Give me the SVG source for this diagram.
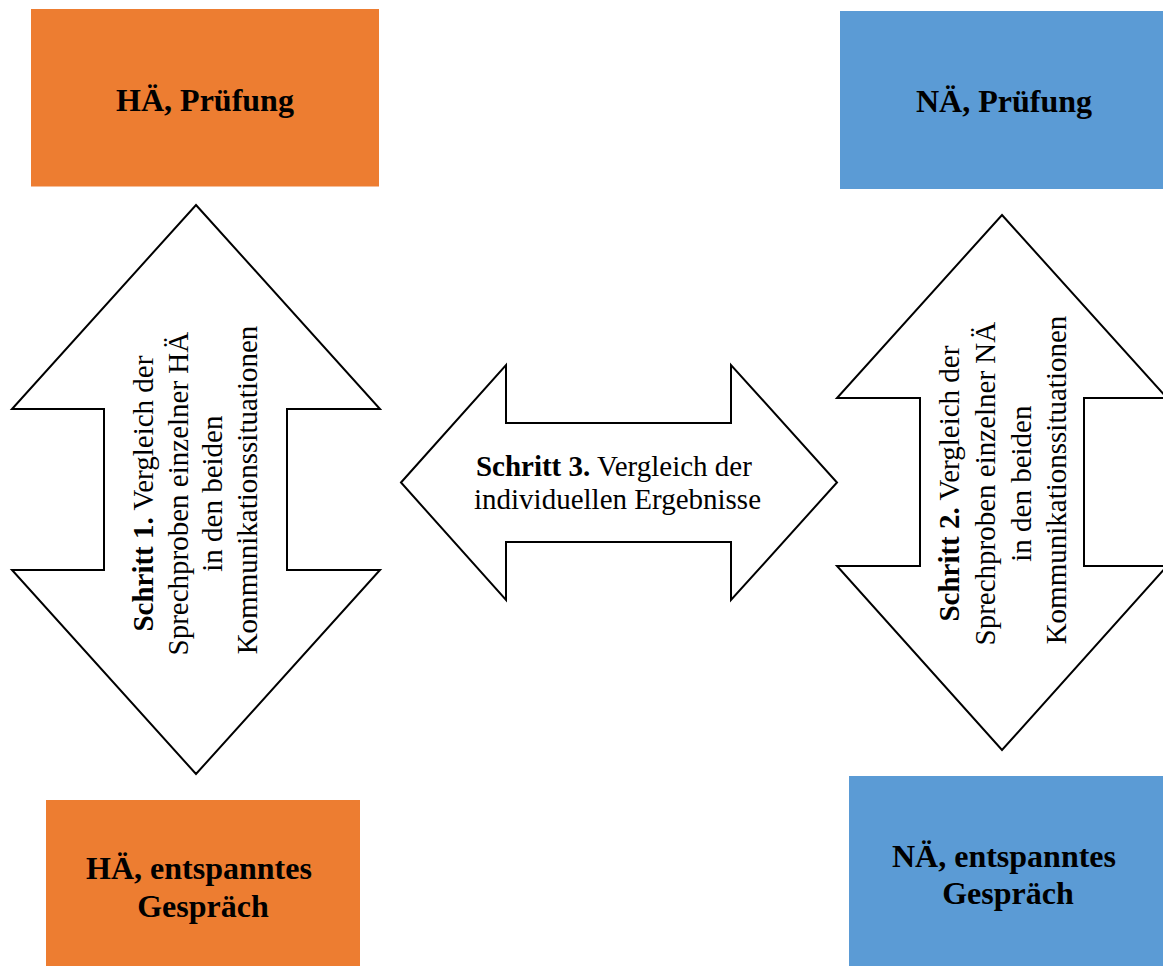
<svg xmlns="http://www.w3.org/2000/svg" width="1163" height="966" viewBox="0 0 1163 966">
  <style>
    .bg { fill: #ffffff; }
    .orange { fill: #ED7D31; }
    .blue { fill: #5B9BD5; }
    .arrow { fill: #ffffff; stroke: #000000; stroke-width: 2; stroke-linejoin: miter; }
    .label { font-family: "Liberation Serif", "Times New Roman", serif; font-weight: bold; font-size: 32px; fill: #000000; text-anchor: middle; }
    .step { font-family: "Liberation Serif", "Times New Roman", serif; font-size: 29px; fill: #000000; text-anchor: middle; }
    .b { font-weight: bold; }
  </style>
  <rect class="bg" x="0" y="0" width="1163" height="966"/>

  <!-- connectors: block arrows between the situations -->
  <g id="connectors">
    <g id="step1">
      <polygon class="arrow" points="196,205 380,409 287,409 287,570 380,570 196,774 12,570 104,570 104,409 12,409"/>
      <text class="step" transform="translate(0,490) rotate(-90)">
        <tspan x="0" y="153"><tspan class="b">Schritt 1.</tspan> Vergleich der</tspan>
        <tspan x="0" y="187.7">Sprechproben einzelner HÄ</tspan>
        <tspan x="0" y="222.3">in den beiden</tspan>
        <tspan x="0" y="257">Kommunikationssituationen</tspan>
      </text>
    </g>
    <g id="step2">
      <polygon class="arrow" points="1002,215 1167,398 1084,398 1084,566 1167,566 1002,750 837,566 920,566 920,398 837,398"/>
      <text class="step" transform="translate(0,480) rotate(-90)">
        <tspan x="0" y="959"><tspan class="b">Schritt 2.</tspan> Vergleich der</tspan>
        <tspan x="0" y="995">Sprechproben einzelner NÄ</tspan>
        <tspan x="0" y="1030.5">in den beiden</tspan>
        <tspan x="0" y="1066">Kommunikationssituationen</tspan>
      </text>
    </g>
    <g id="step3">
      <polygon class="arrow" points="401,482.5 506,365 506,423 731,423 731,365 837,482.5 731,600 731,542 506,542 506,600"/>
      <text class="step">
        <tspan x="617.5" y="476"><tspan class="b">Schritt 3.</tspan> Vergleich der</tspan>
        <tspan x="617.5" y="509">individuellen Ergebnisse</tspan>
      </text>
    </g>
  </g>

  <g id="ha-pruefung">
    <rect class="orange" x="31" y="9" width="348" height="177.5"/>
    <text class="label" x="205" y="111">HÄ, Prüfung</text>
  </g>

  <g id="na-pruefung">
    <rect class="blue" x="840" y="11" width="330" height="178"/>
    <text class="label" x="1004" y="112">NÄ, Prüfung</text>
  </g>

  <g id="ha-gespraech">
    <rect class="orange" x="46" y="800" width="314" height="166"/>
    <text class="label">
      <tspan x="203" y="879">HÄ, entspanntes</tspan>
      <tspan x="203" y="916.5">Gespräch</tspan>
    </text>
  </g>

  <g id="na-gespraech">
    <rect class="blue" x="849" y="776" width="320" height="190"/>
    <text class="label">
      <tspan x="1008" y="867">NÄ, entspanntes</tspan>
      <tspan x="1008" y="904">Gespräch</tspan>
    </text>
  </g>
</svg>
